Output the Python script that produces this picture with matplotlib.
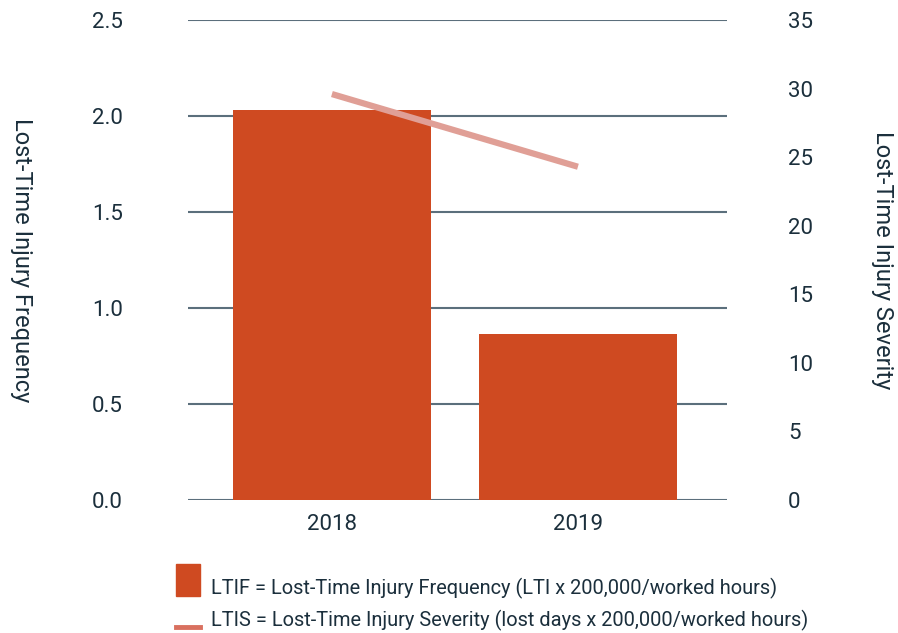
import matplotlib
matplotlib.use("Agg")
import matplotlib.pyplot as plt
from matplotlib.patches import Rectangle
from matplotlib.lines import Line2D

years = ["2018", "2019"]
ltif = [2.03, 0.865]
ltis = [29.6, 24.3]
left_ticks = [0.0, 0.5, 1.0, 1.5, 2.0, 2.5]
right_ticks = [0, 5, 10, 15, 20, 25, 30, 35]
legend_labels = ["LTIF = Lost-Time Injury Frequency (LTI x 200,000/worked hours)",
                 "LTIS = Lost-Time Injury Severity (lost days x 200,000/worked hours)"]

plt.rcParams['font.family'] = ['Roboto', 'DejaVu Sans']
text_col = "#1b2f3c"
grid_col = "#5b6f7c"
bar_col = "#cf4a21"
line_col = "#e09f96"
leg_line_col = "#d9705f"

fig = plt.figure(figsize=(8.98, 6.33), dpi=100)
W, H = 898, 633
ax = fig.add_axes([188 / W, 1 - 500 / H, 539 / W, 480 / H])
x = list(range(len(years)))
ax.bar(x, ltif, width=0.805, color=bar_col, zorder=3)
ax.set_ylim(0, 2.5)
ax.set_xlim(-0.585, 1.606)
ax.set_yticks(left_ticks)
ax.set_yticklabels([f"{t:.1f}" for t in left_ticks])
ax.yaxis.grid(True, color=grid_col, linewidth=1.5, zorder=0)
ax.set_axisbelow(True)
ax.set_xticks(x)
ax.set_xticklabels(years)
for s in ax.spines.values():
    s.set_visible(False)
ax.tick_params(axis='both', length=0, labelsize=16, labelcolor=text_col)
ax.tick_params(axis='y', pad=47)
ax.tick_params(axis='x', pad=10)
ax.set_ylabel("Lost-Time Injury Frequency", rotation=270, fontsize=17,
              color=text_col, labelpad=0)
ax.yaxis.set_label_coords(-0.33, 0.5)

ax2 = ax.twinx()
ax2.plot(x, ltis, color=line_col, linewidth=4.5, solid_capstyle='butt', zorder=4)
ax2.set_ylim(0, 35)
ax2.set_yticks(right_ticks)
ax2.set_yticklabels([str(t) for t in right_ticks])
for s in ax2.spines.values():
    s.set_visible(False)
ax2.tick_params(axis='y', length=0, labelsize=16, labelcolor=text_col, pad=44)
ax2.set_ylabel("Lost-Time Injury Severity", rotation=270, fontsize=17,
               color=text_col)
ax2.yaxis.set_label_coords(1.31, 0.5)

# legend
fig.patches.append(Rectangle((176 / W, 1 - 596 / H), 24 / W, 32 / H,
                             transform=fig.transFigure, color=bar_col))
fig.lines.append(Line2D([176 / W, 200 / W], [1 - 627 / H, 1 - 627 / H],
                        transform=fig.transFigure, color=leg_line_col, linewidth=3.5))
fig.text(211 / W, 1 - 588 / H, legend_labels[0], fontsize=14.4, color=text_col, va='center')
fig.text(211 / W, 1 - 620 / H, legend_labels[1], fontsize=14.4, color=text_col, va='center')

fig.savefig("out.png", dpi=100)
